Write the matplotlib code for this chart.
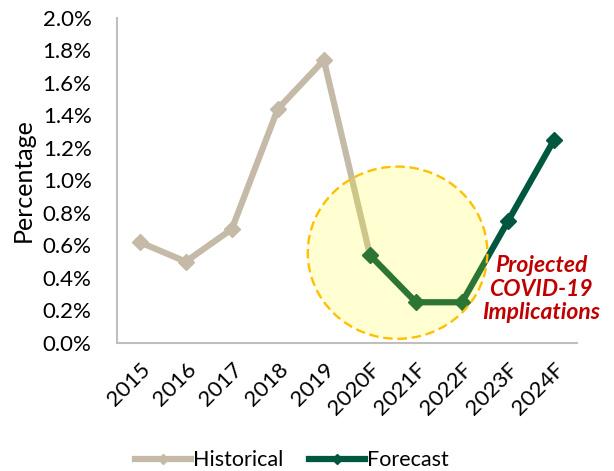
import matplotlib
matplotlib.use("Agg")
import matplotlib.pyplot as plt
from matplotlib.patches import Ellipse
from matplotlib.ticker import FuncFormatter

years = ["2015", "2016", "2017", "2018", "2019", "2020F", "2021F", "2022F", "2023F", "2024F"]
historical = [0.62, 0.50, 0.70, 1.44, 1.74, 0.54]
forecast = [0.54, 0.25, 0.25, 0.75, 1.25]

plt.rcParams['font.family'] = ['Lato', 'DejaVu Sans']

fig = plt.figure(figsize=(6.14, 4.71), dpi=100)
ax = fig.add_axes([0.19, 0.272, 0.75, 0.69])

x = list(range(len(years)))
ax.plot(x[:6], historical, color='#C4BAA7', lw=4.5, marker='D', ms=8, label='Historical', zorder=3)
ax.plot(x[5:], forecast, color='#00573F', lw=4.5, marker='D', ms=8, label='Forecast', zorder=3)

# highlight circle
circ = Ellipse((5.6, 0.555), 3.9, 1.06, facecolor=(1, 1, 0, 0.18), edgecolor='#FFC000',
               lw=1.7, ls=(0, (4, 2)), zorder=4)
ax.add_patch(circ)

ax.text(8.72, 0.33, "Projected\nCOVID-19\nImplications", color='#C00000', fontsize=16.5,
        fontweight='bold', fontstyle='italic', ha='center', va='center', linespacing=1.15, zorder=5)

ax.set_xlim(-0.5, 9.5)
ax.set_ylim(0, 2.0)
ax.set_yticks([i * 0.2 for i in range(11)])
ax.yaxis.set_major_formatter(FuncFormatter(lambda v, p: f"{v:.1f}%"))
ax.set_xticks(x)
ax.set_xticklabels(years, rotation=45, ha='right', rotation_mode='anchor', fontsize=16)
ax.tick_params(axis='y', labelsize=16, length=0, pad=18)
ax.tick_params(axis='x', length=0, pad=12)
ax.set_ylabel("Percentage", fontsize=18, labelpad=6)

for s in ['top', 'right']:
    ax.spines[s].set_visible(False)
for s in ['left', 'bottom']:
    ax.spines[s].set_color('#BFBFBF')
    ax.spines[s].set_linewidth(1.5)

fig.legend(loc='lower center', bbox_to_anchor=(0.475, -0.04), ncol=2, frameon=False, fontsize=15.5,
           handlelength=2.6, handletextpad=0.1, columnspacing=1.2, markerscale=0.6)

fig.savefig("out.png", dpi=100)
